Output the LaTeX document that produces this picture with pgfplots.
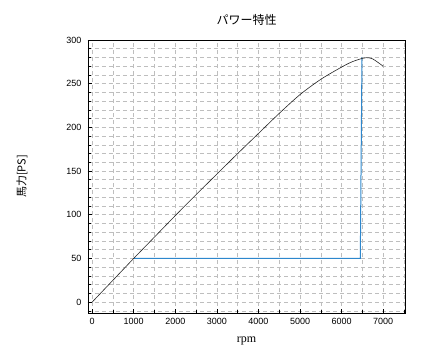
\documentclass[border=0pt]{standalone}
\usepackage{fontspec}
\setmainfont{Liberation Sans}
\newfontfamily\cjk{Noto Sans CJK JP}
\newfontfamily\serif{Liberation Serif}
\usepackage{pgfplots}
\pgfplotsset{compat=1.18}
\definecolor{pblue}{RGB}{45,135,205}
\definecolor{gridgray}{RGB}{190,190,190}
\begin{document}
\begin{tikzpicture}
\begin{axis}[
  at={(0pt,0pt)}, anchor=south west,
  scale only axis, width=317pt, height=273pt,
  xmin=-100, xmax=7525, ymin=-12.5, ymax=300,
  xtick={0,1000,...,7000}, minor xtick={500,1500,...,7500},
  ytick={0,50,...,300}, minor ytick={-10,0,...,300},
  grid=both,
  major grid style={gridgray, dash pattern=on 4pt off 3pt, line width=0.6pt},
  minor grid style={gridgray, dash pattern=on 4pt off 3pt, line width=0.6pt},
  tick align=inside, tick pos=left,
  major tick length=4pt, minor tick length=3pt,
  every tick/.style={black, line width=0.6pt},
  axis line style={line width=0.9pt},
  /pgf/number format/assume math mode=true,
  /pgf/number format/set thousands separator={},
  ticklabel style={font=\fontsize{9}{10}\selectfont},
  xticklabel style={yshift=-2pt},
  yticklabel style={xshift=-3pt},
  clip=false,
]
\addplot[pblue, line width=1pt] coordinates {(1000,50) (6450,50) (6490,280)};
\addplot[black!85, line width=0.6pt, smooth, tension=0.5] coordinates {
(0,0) (500,25) (1000,50) (1500,74.5) (2000,99) (2500,123) (3000,146.5)
(3500,170) (4000,193) (4500,216) (5000,237.5) (5500,255) (6000,269)
(6250,275) (6500,279) (6600,279.8) (6750,278.3) (7000,270)};
\node[font=\cjk\fontsize{12}{14}\selectfont] at ([yshift=20pt]rel axis cs:0.5,1) {パワー特性};
\node[font=\cjk\fontsize{11}{13}\selectfont, rotate=90] at ([xshift=-66pt]rel axis cs:0,0.5) {馬力[PS]};
\node[font=\serif\fontsize{12}{14}\selectfont] at ([yshift=-28pt]rel axis cs:0.5,0) {rpm};
\end{axis}
\path[use as bounding box] (-88pt,-41pt) rectangle (338pt,313pt);
\end{tikzpicture}
\end{document}
